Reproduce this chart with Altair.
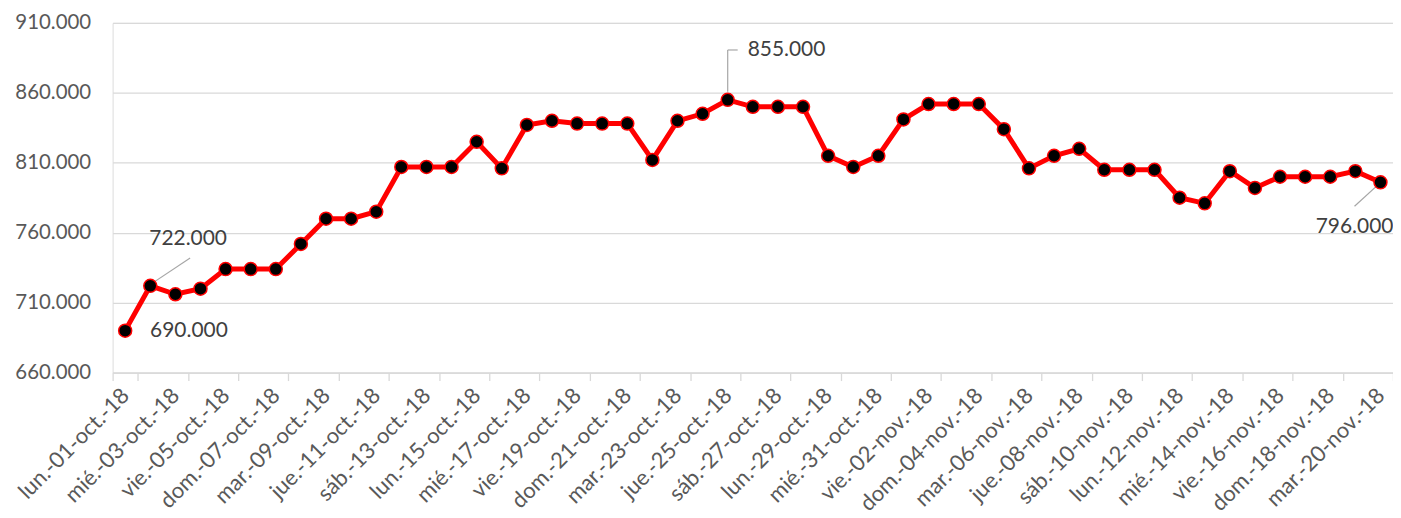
import altair as alt
import pandas as pd

dates = [
    "lun.-01-oct.-18", "mar.-02-oct.-18", "mié.-03-oct.-18", "jue.-04-oct.-18", "vie.-05-oct.-18",
    "sáb.-06-oct.-18", "dom.-07-oct.-18", "lun.-08-oct.-18", "mar.-09-oct.-18", "mié.-10-oct.-18",
    "jue.-11-oct.-18", "vie.-12-oct.-18", "sáb.-13-oct.-18", "dom.-14-oct.-18", "lun.-15-oct.-18",
    "mar.-16-oct.-18", "mié.-17-oct.-18", "jue.-18-oct.-18", "vie.-19-oct.-18", "sáb.-20-oct.-18",
    "dom.-21-oct.-18", "lun.-22-oct.-18", "mar.-23-oct.-18", "mié.-24-oct.-18", "jue.-25-oct.-18",
    "vie.-26-oct.-18", "sáb.-27-oct.-18", "dom.-28-oct.-18", "lun.-29-oct.-18", "mar.-30-oct.-18",
    "mié.-31-oct.-18", "jue.-01-nov.-18", "vie.-02-nov.-18", "sáb.-03-nov.-18", "dom.-04-nov.-18",
    "lun.-05-nov.-18", "mar.-06-nov.-18", "mié.-07-nov.-18", "jue.-08-nov.-18", "vie.-09-nov.-18",
    "sáb.-10-nov.-18", "dom.-11-nov.-18", "lun.-12-nov.-18", "mar.-13-nov.-18", "mié.-14-nov.-18",
    "jue.-15-nov.-18", "vie.-16-nov.-18", "sáb.-17-nov.-18", "dom.-18-nov.-18", "lun.-19-nov.-18",
    "mar.-20-nov.-18",
]
values = [
    690000, 722000, 716000, 720000, 734000, 734000, 734000, 752000, 770000, 770000,
    775000, 807000, 807000, 807000, 825000, 806000, 837000, 840000, 838000, 838000,
    838000, 812000, 840000, 845000, 855000, 850000, 850000, 850000, 815000, 807000,
    815000, 841000, 852000, 852000, 852000, 834000, 806000, 815000, 820000, 805000,
    805000, 805000, 785000, 781000, 804000, 792000, 800000, 800000, 800000, 804000,
    796000,
]
y_ticks = [660000, 710000, 760000, 810000, 860000, 910000]
annotated = [dates[0], dates[1], dates[24], dates[50]]

df = pd.DataFrame({"fecha": dates, "valor": values})

FONT = "Lato"
fmt_expr = "replace(format(datum.valor, ','), ',', '.')"

x_enc = alt.X(
    "fecha:N",
    sort=dates,
    bandPosition=0.5,
    scale=alt.Scale(type="band", domain=dates, paddingInner=0, paddingOuter=0),
    axis=alt.Axis(
        title=None,
        values=dates[::2],
        tickBand="extent",
        labelAngle=-45,
        labelAlign="right",
        labelBaseline="middle",
        labelPadding=11,
        labelOverlap=False,
        labelBound=False,
        labelFlush=False,
        labelFont=FONT,
        labelFontSize=22,
        labelColor="#595959",
        domainColor="#D9D9D9",
        domainWidth=1.3,
        tickColor="#D9D9D9",
        tickWidth=1.3,
        tickSize=8,
        grid=False,
    ),
)
y_enc = alt.Y(
    "valor:Q",
    scale=alt.Scale(domain=[660000, 910000], nice=False, zero=False),
    axis=alt.Axis(
        title=None,
        values=y_ticks,
        labelExpr="replace(format(datum.value, ','), ',', '.')",
        labelFont=FONT,
        labelFontSize=20.5,
        labelColor="#595959",
        labelPadding=22,
        ticks=False,
        domain=False,
        grid=True,
        gridColor="#D9D9D9",
        gridWidth=1.3,
    ),
)

base = alt.Chart(df)

line = base.mark_line(color="#FF0000", strokeWidth=5).encode(x=x_enc, y=y_enc)
dots = base.mark_circle(
    color="black", stroke="#FF0000", strokeWidth=1.5, size=170, opacity=1
).encode(x=x_enc, y=y_enc)


def ann_text(label, align, dx, dy):
    return (
        base.transform_filter(alt.datum.fecha == label)
        .transform_calculate(txt=fmt_expr)
        .mark_text(align=align, baseline="middle", dx=dx, dy=dy, font=FONT,
                   fontSize=21, color="#404040")
        .encode(x=x_enc, y=y_enc, text="txt:N")
    )


def leader(label, xo, yo, x2o, y2o):
    return (
        base.transform_filter(alt.datum.fecha == label)
        .mark_rule(color="#A6A6A6", strokeWidth=1.2,
                   xOffset=xo, yOffset=yo, x2Offset=x2o, y2Offset=y2o)
        .encode(x=x_enc, y=y_enc, x2="fecha:N", y2="valor:Q")
    )


layers = [
    line,
    leader(annotated[1], 1, -2, 40, -28),
    leader(annotated[2], 0, -8, 0, -50),
    leader(annotated[2], 0, -50, 10, -50),
    leader(annotated[3], -2, 2, -26, 24),
    dots,
    ann_text(annotated[0], "left", 25, 0),
    ann_text(annotated[1], "left", -1, -47),
    ann_text(annotated[2], "left", 20, -50),
    ann_text(annotated[3], "right", 13, 45),
]

chart = (
    alt.layer(*layers)
    .properties(
        width=1285,
        height=351,
        padding={"left": 105, "top": 14, "right": 0, "bottom": 145},
        autosize=alt.AutoSizeParams(type="none"),
    )
    .configure_view(stroke=None)
    .configure(background="white")
)

chart.save("out.html", embed_options={"renderer": "svg", "actions": False})
